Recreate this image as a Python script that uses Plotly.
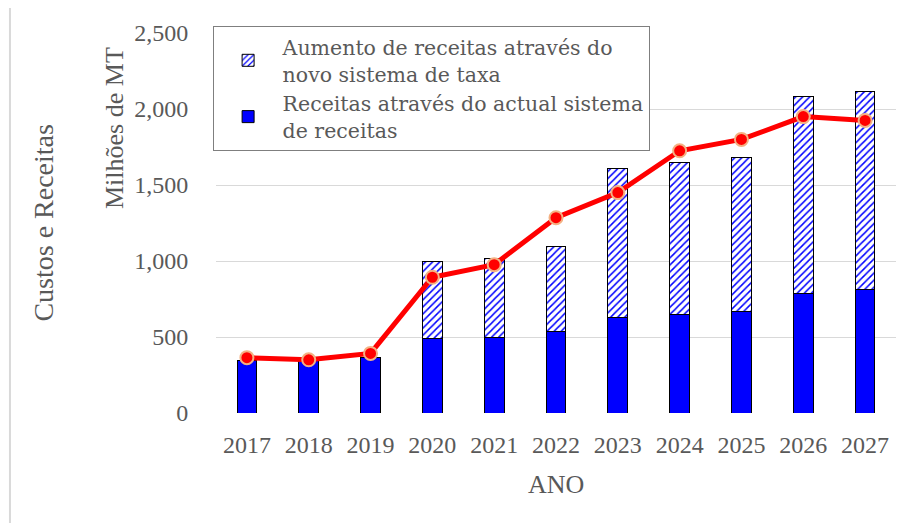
import plotly.graph_objects as go

years = ["2017", "2018", "2019", "2020", "2021", "2022", "2023", "2024", "2025", "2026", "2027"]
current_revenue = [345, 350, 362, 490, 498, 536, 630, 648, 668, 787, 813]
total_revenue = [345, 350, 362, 1000, 1018, 1093, 1610, 1649, 1684, 2083, 2118]
increase_revenue = [t - c for t, c in zip(total_revenue, current_revenue)]
costs = [364, 350, 392, 893, 976, 1285, 1450, 1725, 1800, 1950, 1925]

name_increase = "Aumento de receitas através do<br>novo sistema de taxa"
name_current = "Receitas através do actual sistema<br>de receitas"

TXT = "#595959"
SERIF = "DejaVu Serif"
TNR = "Liberation Serif"

fig = go.Figure()
fig.add_trace(go.Bar(
    x=years, y=current_revenue, name=name_current,
    marker=dict(color="#0000FF", line=dict(color="#000000", width=1)),
))
fig.add_trace(go.Bar(
    x=years, y=increase_revenue, name=name_increase,
    marker=dict(color="#FFFFFF", line=dict(color="#000000", width=1),
                pattern=dict(shape="/", fgcolor="#0000FF", bgcolor="#FFFFFF",
                             size=5, solidity=0.3, fillmode="replace")),
))
fig.add_trace(go.Scatter(
    x=years, y=costs, mode="lines+markers", showlegend=False,
    line=dict(color="#FF0000", width=5),
    marker=dict(color="#FF0000", size=13, line=dict(color="#F4B183", width=2)),
))

fig.update_layout(
    width=912, height=523,
    margin=dict(l=208, r=24, t=25, b=118, autoexpand=False),
    paper_bgcolor="#FFFFFF", plot_bgcolor="#FFFFFF",
    barmode="stack", bargap=0.68,
    showlegend=True,
    legend=dict(
        x=-0.005, y=1.018, xanchor="left", yanchor="top",
        traceorder="reversed", itemwidth=59,
        bgcolor="#FFFFFF", bordercolor="#7F7F7F", borderwidth=1,
        font=dict(family=SERIF, size=20.5, color=TXT),
        tracegroupgap=4,
    ),
    font=dict(family=SERIF, color=TXT),
    xaxis=dict(
        type="category", range=[-0.5, 10.5],
        showgrid=False, zeroline=False, showline=False,
        ticks="outside", ticklen=10, tickcolor="rgba(0,0,0,0)",
        tickfont=dict(family=TNR, size=24, color=TXT),
    ),
    yaxis=dict(
        range=[0, 2500], dtick=500, tickformat=",",
        showgrid=True, gridcolor="#D9D9D9", gridwidth=1,
        zeroline=False, showline=False,
        ticks="outside", ticklen=22, tickcolor="rgba(0,0,0,0)",
        tickfont=dict(family=TNR, size=24, color=TXT),
    ),
    annotations=[
        dict(text="ANO", xref="paper", yref="paper", x=0.5, y=-0.187,
             xanchor="center", yanchor="middle", showarrow=False,
             font=dict(family=TNR, size=26, color=TXT)),
        dict(text="Milhões de MT", xref="paper", yref="paper", x=-0.15, y=0.75,
             xanchor="center", yanchor="middle", textangle=-90, showarrow=False,
             font=dict(family=TNR, size=26, color=TXT)),
        dict(text="Custos e Receitas", xref="paper", yref="paper", x=-0.255, y=0.5,
             xanchor="center", yanchor="middle", textangle=-90, showarrow=False,
             font=dict(family=TNR, size=28, color=TXT)),
    ],
    shapes=[
        dict(type="rect", xref="paper", yref="paper", x0=-0.303, x1=1.2, y0=-0.5, y1=1.0737,
             line=dict(color="#D9D9D9", width=2), fillcolor="rgba(0,0,0,0)", layer="below"),
    ],
)

fig.write_html("out.html")
